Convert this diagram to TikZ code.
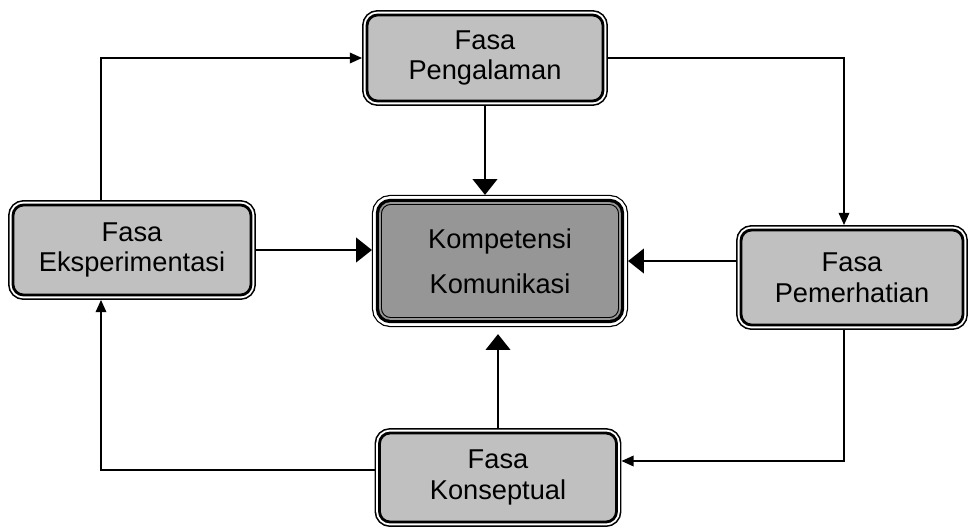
\documentclass[tikz,border=0pt]{standalone}
\usepackage{fontspec}
\setmainfont{Liberation Sans}
\usetikzlibrary{arrows.meta}
\usetikzlibrary{positioning}
\definecolor{fasagray}{HTML}{C0C0C0}
\definecolor{intigray}{HTML}{969696}

\begin{document}
\begin{tikzpicture}
\tikzstyle{fasa}=[rectangle,rounded corners=6pt,fill=fasagray,draw=black,line width=1.6pt,
preaction={draw=black,line width=5.6pt},preaction={draw=white,line width=3.8pt},
inner sep=0pt,outer sep=2.8pt,align=center,font=\fontsize{15.5}{17.5}\selectfont]
\tikzstyle{inti}=[rectangle,rounded corners=6pt,fill=intigray,draw=black,line width=2.2pt,
preaction={draw=black,line width=9.2pt},preaction={draw=white,line width=7.8pt},
preaction={draw=black,line width=4.8pt},postaction={draw=intigray,line width=1pt},
inner sep=0pt,outer sep=4.6pt,align=center,font=\fontsize{15.5}{25.5}\selectfont]
\tikzstyle{panah}=[line width=1.1pt,-{Triangle[length=7pt,width=6pt]}]
\tikzstyle{panah besar}=[line width=1.1pt,-{Triangle[length=9pt,width=14pt]}]
\useasboundingbox (0,0) rectangle (19.4,-10.62);
\node[inti,minimum width=4.8cm,minimum height=2.32cm] (kompetensi) at (10.0,-5.22) {Kompetensi\\Komunikasi};
\node[fasa,minimum width=4.72cm,minimum height=1.72cm] (pengalaman) at (9.70,-1.16) {Fasa\\Pengalaman};
\node[fasa,minimum width=4.76cm,minimum height=1.8cm] (eksperimentasi) at (2.64,-5.00) {Fasa\\Eksperimentasi};
\node[fasa,minimum width=4.44cm,minimum height=1.9cm] (pemerhatian) at (17.04,-5.55) {Fasa\\Pemerhatian};
\node[fasa,minimum width=4.74cm,minimum height=1.78cm] (konseptual) at (9.96,-9.55) {Fasa\\Konseptual};
% siklus luar
\draw[panah] ([xshift=-0.62cm]eksperimentasi.north) |- (pengalaman.west);
\draw[panah] (pengalaman.east) -| ([xshift=-0.16cm]pemerhatian.north);
\draw[panah] ([xshift=-0.16cm]pemerhatian.south) |- ([yshift=0.33cm]konseptual.east);
\draw[panah] ([yshift=0.15cm]konseptual.west) -| ([xshift=-0.62cm]eksperimentasi.south);
% ke kompetensi
\draw[panah besar] (pengalaman.south) -- (pengalaman.south |- kompetensi.north);
\draw[panah besar] (eksperimentasi.east) -- (eksperimentasi.east -| kompetensi.west);
\draw[panah besar] (kompetensi.east -| pemerhatian.west) -- (kompetensi.east);
\draw[panah besar,shorten >=4pt] (konseptual.north) -- (konseptual.north |- kompetensi.south);
\end{tikzpicture}
\end{document}
